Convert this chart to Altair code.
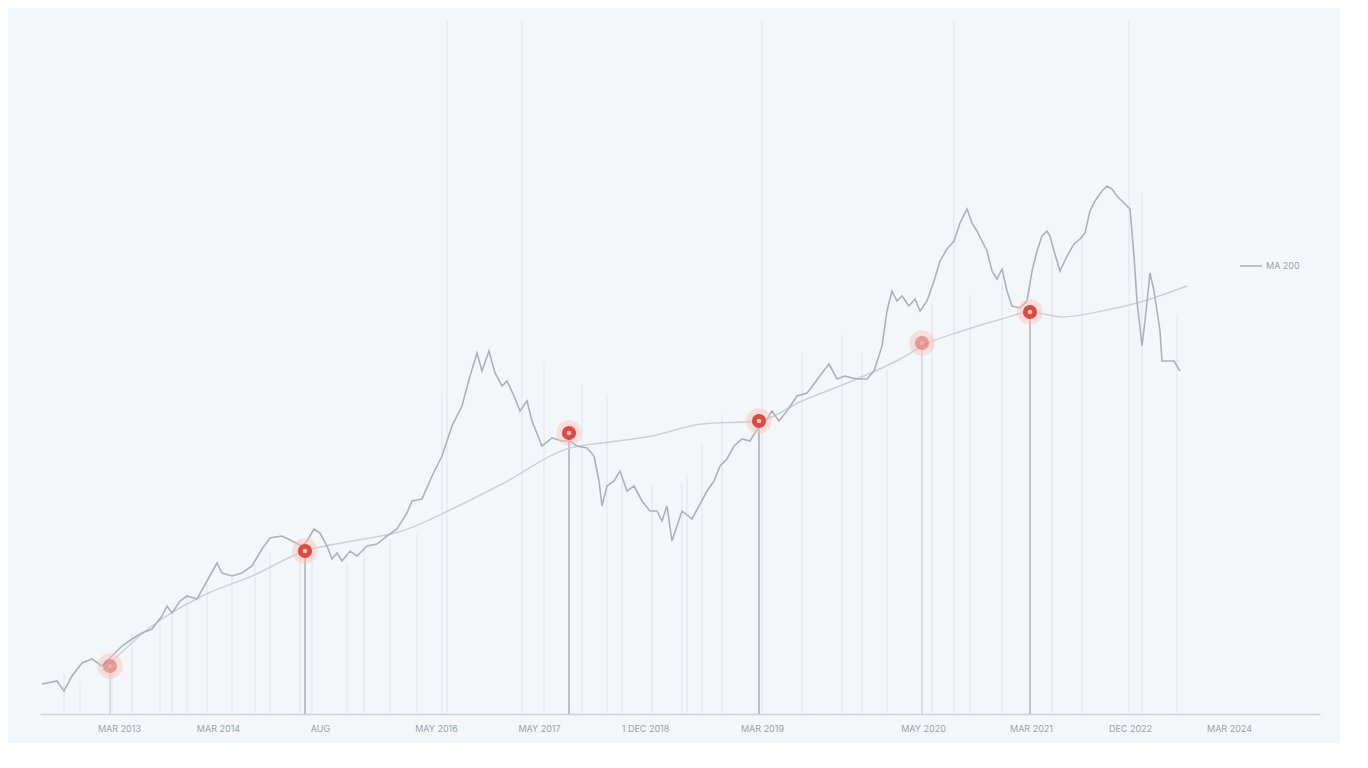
import altair as alt
import pandas as pd

# ---- data (x = time index, y = price level) ----
price_x = [2, 17, 24, 32, 42, 52, 62, 72, 82, 92, 102, 112, 122, 127, 132, 140, 147, 157, 167, 177, 182, 192, 202, 212, 222, 230, 242, 252, 262, 267, 274, 280, 287, 292, 297, 302, 310, 317, 327, 337, 347, 357, 367, 372, 382, 392, 402, 412, 422, 430, 437, 442, 449, 455, 462, 467, 474, 480, 487, 492, 502, 512, 522, 530, 537, 547, 554, 559, 562, 567, 574, 580, 587, 594, 602, 610, 617, 622, 627, 632, 637, 642, 652, 659, 667, 674, 680, 687, 694, 702, 710, 719, 727, 732, 739, 747, 757, 767, 774, 782, 789, 797, 805, 812, 820, 827, 834, 842, 847, 852, 857, 862, 869, 875, 880, 887, 894, 900, 907, 914, 920, 927, 932, 937, 942, 947, 952, 957, 962, 967, 972, 980, 987, 992, 997, 1002, 1007, 1010, 1014, 1020, 1027, 1034, 1040, 1045, 1050, 1055, 1062, 1067, 1072, 1077, 1082, 1090, 1094, 1097, 1102, 1105, 1110, 1114, 1120, 1122, 1127, 1134, 1140]
price_y = [30, 33, 23, 38, 51, 55, 48, 58, 68, 75, 81, 85, 98, 108, 101, 113, 118, 115, 133, 151, 141, 138, 141, 148, 165, 176, 178, 173, 168, 173, 185, 181, 168, 155, 161, 153, 163, 158, 168, 170, 178, 185, 201, 213, 215, 238, 258, 288, 308, 338, 361, 343, 363, 341, 328, 333, 318, 303, 313, 293, 268, 276, 273, 273, 268, 266, 258, 233, 208, 228, 233, 243, 223, 228, 213, 203, 203, 193, 208, 173, 188, 203, 195, 208, 223, 233, 248, 255, 268, 275, 273, 288, 295, 303, 293, 303, 318, 321, 330, 341, 350, 335, 338, 336, 335, 335, 343, 368, 403, 423, 413, 418, 408, 415, 403, 413, 433, 453, 465, 473, 491, 505, 491, 483, 473, 463, 443, 435, 445, 423, 408, 406, 413, 443, 463, 478, 483, 478, 463, 443, 458, 470, 475, 481, 503, 513, 523, 528, 525, 518, 513, 505, 458, 413, 368, 393, 441, 423, 383, 353, 353, 353, 343]

ma_x = [62, 112, 162, 212, 265, 312, 362, 412, 462, 530, 562, 612, 662, 719, 762, 812, 862, 882, 922, 962, 990, 1022, 1062, 1097, 1147]
ma_y = [43, 88, 118, 138, 163, 173, 183, 205, 230, 266, 271, 278, 290, 293, 313, 333, 356, 368, 383, 395, 402, 397, 403, 411, 428]

event_x = [70, 265, 529, 719, 882, 990]
event_y = [48, 163, 281, 293, 371, 402]
event_strength = [0.45, 1.0, 1.0, 1.0, 0.45, 1.0]

guide_x = [24, 40, 72, 92, 120, 132, 147, 167, 192, 215, 230, 260, 272, 307, 324, 350, 377, 402, 407, 482, 504, 542, 567, 582, 612, 642, 647, 662, 682, 722, 762, 802, 822, 847, 892, 914, 930, 962, 1012, 1042, 1089, 1102, 1137]
guide_top = [40, 30, 60, 80, 90, 100, 120, 130, 140, 150, 160, 175, 175, 150, 170, 175, 180, 320, 693, 693, 350, 330, 320, 240, 230, 230, 240, 270, 300, 693, 360, 380, 360, 345, 410, 693, 420, 430, 460, 480, 693, 520, 400]

tick_pos = [79, 178, 280, 396, 499, 605, 722, 883, 991, 1090, 1189]
tick_labels = ["MAR 2013", "MAR 2014", "AUG", "MAY 2016", "MAY 2017", "1 DEC 2018",
               "MAR 2019", "MAY 2020", "MAR 2021", "DEC 2022", "MAR 2024"]

legend_label = ["MA 200"]

# ---- tables ----
price = pd.DataFrame({"x": price_x, "y": price_y})
ma = pd.DataFrame({"x": ma_x, "y": ma_y})
events = pd.DataFrame({"x": event_x, "y": event_y, "s": event_strength})
guides = pd.DataFrame({"x": guide_x, "top": guide_top})
legend = pd.DataFrame({"x": [1200], "x2": [1222], "tx": [1226], "y": [448], "label": legend_label})

label_map = "{" + ",".join(f"'{p}':'{l}'" for p, l in zip(tick_pos, tick_labels)) + "}"

xs = alt.Scale(domain=[0, 1280], nice=False, zero=False)
ys = alt.Scale(domain=[0, 693], nice=False)

x_axis = alt.Axis(values=tick_pos, labelExpr=f"{label_map}[datum.value]", grid=False,
                  ticks=False, domainColor="#ccd4db", domainWidth=1.5,
                  labelColor="#9aa1a8", labelFontSize=9, labelPadding=10,
                  labelFont="Inter", title=None)

base_x = alt.X("x:Q", scale=xs, axis=x_axis)
no_y = dict(scale=ys, axis=None)

guide_layer = alt.Chart(guides).mark_rule(color="#dfe5ea", strokeWidth=1).transform_calculate(
    zero="0"
).encode(x=base_x, y=alt.Y("zero:Q", **no_y), y2="top:Q")

event_rules = alt.Chart(events).mark_rule(color="#aeb3b8", strokeWidth=1.6).transform_calculate(
    zero="0"
).encode(x=base_x, y=alt.Y("zero:Q", **no_y), y2="y:Q",
         opacity=alt.Opacity("s:Q", scale=None, legend=None))

ma_layer = alt.Chart(ma).mark_line(color="#cdd1d5", strokeWidth=1.5, interpolate="monotone").encode(
    x=base_x, y=alt.Y("y:Q", **no_y))

price_layer = alt.Chart(price).mark_line(color="#adb2b7", strokeWidth=1.6).encode(
    x=base_x, y=alt.Y("y:Q", **no_y))

halo = alt.Chart(events).mark_circle(color="#f6c2ba", size=650, opacity=0.45).encode(
    x=base_x, y=alt.Y("y:Q", **no_y))

discs = alt.Chart(events).mark_circle(color="#dc4a40", size=200).encode(
    x=base_x, y=alt.Y("y:Q", **no_y),
    opacity=alt.Opacity("s:Q", scale=None, legend=None))

dots = alt.Chart(events).mark_circle(color="#f7c4be", size=22).encode(
    x=base_x, y=alt.Y("y:Q", **no_y),
    opacity=alt.Opacity("s:Q", scale=None, legend=None))

leg_line = alt.Chart(legend).mark_rule(color="#adb2b7", strokeWidth=1.5).encode(
    x=base_x, x2="x2:Q", y=alt.Y("y:Q", **no_y))
leg_text = alt.Chart(legend).mark_text(align="left", baseline="middle", fontSize=9,
                                       color="#9aa0a6", font="Inter").encode(
    x=alt.X("tx:Q", scale=xs, axis=x_axis), y=alt.Y("y:Q", **no_y), text="label:N")

chart = alt.layer(guide_layer, event_rules, ma_layer, price_layer, halo, discs, dots,
                  leg_line, leg_text).properties(
    width=1280, height=693,
    padding={"left": 30, "top": 12, "right": 20, "bottom": 10},
    background="#f3f7fa",
).configure_view(stroke=None)

chart.save("out.html", embed_options={"renderer": "svg", "actions": False})
